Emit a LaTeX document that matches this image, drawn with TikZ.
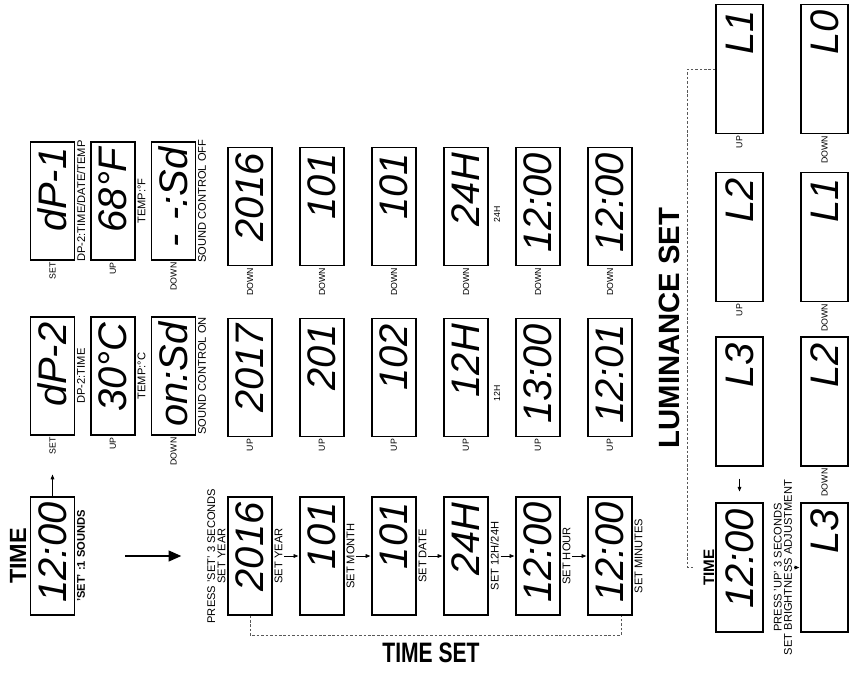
\documentclass[tikz,border=0pt]{standalone}
\usepackage{fontspec}
\setmainfont{Liberation Sans}
\newfontfamily\lcdfont{Liberation Sans}
\usetikzlibrary{arrows.meta}

\tikzset{
  lcd/.style={draw, line width=0.9pt, rotate=90, minimum width=3.54cm, minimum height=1.32cm,
    inner sep=0pt, text width=3.2cm, align=right, font=\lcdfont\itshape\fontsize{34}{34}\selectfont},
  lcdbig/.style={lcd, minimum width=3.87cm, minimum height=1.41cm, text width=3.5cm},
  keylbl/.style={rotate=90, inner sep=1.5pt, font=\fontsize{7.5}{8}\selectfont},
  lbl/.style={rotate=90, inner sep=1.5pt, align=center, font=\fontsize{9.5}{8.8}\selectfont},
  title/.style={rotate=90, font=\bfseries\fontsize{20}{20}\selectfont},
  flow/.style={-{Triangle[length=4pt,width=3.2pt]}, line width=0.6pt},
  bigflow/.style={-{Triangle[length=11pt,width=9pt]}, line width=2.2pt},
  dashline/.style={dash pattern=on 2.2pt off 1.6pt, line width=0.7pt, gray!70!black}
}

\begin{document}
\begin{tikzpicture}[x=0.03cm, y=-0.03cm]
  \useasboundingbox (0,0) rectangle (852,674);

  % start display
  \node[lcd] (time) at (52.5,556) {12:00};
  \node[title, anchor=south, inner sep=3pt] (timettl) at (time.north) {TIME};
  \node[lbl, anchor=north, font=\bfseries\fontsize{9.5}{10}\selectfont] (sounds) at (time.south) {'SET' :1 SOUNDS};

  % display mode / temperature / sound
  \node[lcd] (dpb) at (52.5,376) {dP-2};
  \node[lcd] (tempc) at (113,376) {30°C};
  \node[lcd] (sndon) at (173.5,376) {on:Sd};
  \node[lcd] (dpa) at (52.5,201) {dP-1};
  \node[lcd] (tempf) at (113,201) {68°F};
  \node[lcd] (sndoff) at (173.5,201) {- -:Sd};

  \node[keylbl, anchor=east] (kset2) at (dpb.west) {SET};
  \node[keylbl, anchor=east] (kup2) at (tempc.west) {UP};
  \node[keylbl, anchor=east] (kdown2) at (sndon.west) {DOWN};
  \node[keylbl, anchor=east] (kset1) at (dpa.west) {SET};
  \node[keylbl, anchor=east] (kup1) at (tempf.west) {UP};
  \node[keylbl, anchor=east] (kdown1) at (sndoff.west) {DOWN};

  \node[lbl, anchor=north] (dptime) at (dpb.south) {DP-2:TIME};
  \node[lbl, anchor=north] (tempcl) at (tempc.south) {TEMP:°C};
  \node[lbl, anchor=north] (sndonl) at (sndon.south) {SOUND CONTROL ON};
  \node[lbl, anchor=north] (dpall) at (dpa.south) {DP-2:TIME/DATE/TEMP};
  \node[lbl, anchor=north] (tempfl) at (tempf.south) {TEMP:°F};
  \node[lbl, anchor=north] (sndoffl) at (sndoff.south) {SOUND CONTROL OFF};

  \draw[flow, shorten >=0.54cm] (time.east) -- (kset2.west);

  % time set: down row
  \node[lcd] (dn1) at (250,206.5) {2016};
  \node[lcd] (dn2) at (322,206.5) {101};
  \node[lcd] (dn3) at (394,206.5) {101};
  \node[lcd] (dn4) at (466,206.5) {24H};
  \node[lcd] (dn5) at (538,206.5) {12:00};
  \node[lcd] (dn6) at (610,206.5) {12:00};
  \node[keylbl, anchor=east] (kdn1) at (dn1.west) {DOWN};
  \node[keylbl, anchor=east] (kdn2) at (dn2.west) {DOWN};
  \node[keylbl, anchor=east] (kdn3) at (dn3.west) {DOWN};
  \node[keylbl, anchor=east] (kdn4) at (dn4.west) {DOWN};
  \node[keylbl, anchor=east] (kdn5) at (dn5.west) {DOWN};
  \node[keylbl, anchor=east] (kdn6) at (dn6.west) {DOWN};
  \node[keylbl] (h24) at (497,214) {24H};

  % time set: up row
  \node[lcd] (up1) at (250,377.5) {2017};
  \node[lcd] (up2) at (322,377.5) {201};
  \node[lcd] (up3) at (394,377.5) {102};
  \node[lcd] (up4) at (466,377.5) {12H};
  \node[lcd] (up5) at (538,377.5) {13:00};
  \node[lcd] (up6) at (610,377.5) {12:01};
  \node[keylbl, anchor=east] (kupa) at (up1.west) {UP};
  \node[keylbl, anchor=east] (kupb) at (up2.west) {UP};
  \node[keylbl, anchor=east] (kupc) at (up3.west) {UP};
  \node[keylbl, anchor=east] (kupd) at (up4.west) {UP};
  \node[keylbl, anchor=east] (kupe) at (up5.west) {UP};
  \node[keylbl, anchor=east] (kupf) at (up6.west) {UP};
  \node[keylbl] (h12) at (497,393) {12H};

  % time set: main row
  \node[lcd] (ts1) at (250,556) {2016};
  \node[lcd] (ts2) at (322,556) {101};
  \node[lcd] (ts3) at (394,556) {101};
  \node[lcd] (ts4) at (466,556) {24H};
  \node[lcd] (ts5) at (538,556) {12:00};
  \node[lcd] (ts6) at (610,556) {12:00};

  \draw[bigflow, shorten <=1.5cm, shorten >=1.38cm] (time.south) -- (ts1.north);

  \node[lbl, anchor=south] (press) at (ts1.north) {PRESS 'SET' 3 SECONDS\\SET YEAR};
  \node[lbl, anchor=north] (syear) at (ts1.south) {SET YEAR};
  \node[lbl, anchor=north] (smonth) at (ts2.south) {SET MONTH};
  \node[lbl, anchor=north] (sdate) at (ts3.south) {SET DATE};
  \node[lbl, anchor=north] (s1224) at (ts4.south) {SET 12H/24H};
  \node[lbl, anchor=north] (shour) at (ts5.south) {SET HOUR};
  \node[lbl, anchor=north] (smin) at (ts6.south) {SET MINUTES};

  \draw[flow, shorten >=1pt] (syear.south) -- (ts2.north);
  \draw[flow, shorten >=1pt] (smonth.south) -- (ts3.north);
  \draw[flow, shorten >=1pt] (sdate.south) -- (ts4.north);
  \draw[flow, shorten >=1pt] (s1224.south) -- (ts5.north);
  \draw[flow, shorten >=1pt] (shour.south) -- (ts6.north);

  \draw[dashline] (ts1.west) -- ++(0,20) -| ([xshift=0.33cm]ts6.west);
  \node[font=\bfseries\fontsize{24}{24}\selectfont] (tsttl) at (431,653) {\scalebox{0.75}[1]{TIME SET}};

  % luminance set
  \node[title, font=\bfseries\fontsize{25}{25}\selectfont] (lumttl) at (669,328) {LUMINANCE SET};

  \node[lcdbig] (la1) at (739.5,69) {L1};
  \node[lcdbig] (la2) at (739.5,237) {L2};
  \node[lcdbig] (la3) at (739.5,401.5) {L3};
  \node[lcdbig] (clk) at (739.5,567.5) {12:00};
  \node[lcdbig] (lb0) at (824.5,69) {L0};
  \node[lcdbig] (lb1) at (824.5,237) {L1};
  \node[lcdbig] (lb2) at (824.5,401.5) {L2};
  \node[lcdbig] (lb3) at (824.5,567.5) {L3};

  \node[keylbl, anchor=east] (kla1) at (la1.west) {UP};
  \node[keylbl, anchor=east] (kla2) at (la2.west) {UP};
  \node[keylbl, anchor=east] (klb0) at (lb0.west) {DOWN};
  \node[keylbl, anchor=east] (klb1) at (lb1.west) {DOWN};
  \node[keylbl, anchor=east] (klb2) at (lb2.west) {DOWN};

  \node[title, anchor=south, inner sep=1pt, font=\bfseries\fontsize{13}{13}\selectfont] (ltime) at (clk.north) {TIME};
  \node[lbl, anchor=north] (pressup) at ([xshift=7pt]clk.south) {PRESS 'UP' 3 SECONDS\\SET BRIGHTNESS ADJUSTMENT};

  \draw[flow, shorten <=0.36cm, shorten >=0.33cm] (la3.west) -- (clk.east);
  \draw[flow, shorten >=1pt] (pressup.south) -- (lb3.north);
  \draw[dashline, shorten >=0.24cm] (la1.north) -- ++(-28,0) |- (ltime.north);
\end{tikzpicture}
\end{document}
